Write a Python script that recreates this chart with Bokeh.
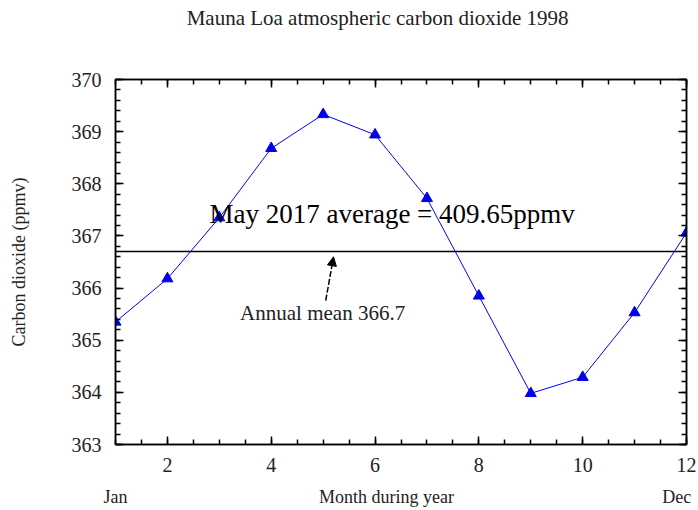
from bokeh.plotting import figure
from bokeh.models import FixedTicker, LinearAxis, Label, Arrow, NormalHead, Range1d
from bokeh.embed import file_html
from bokeh.resources import INLINE

months = [1, 2, 3, 4, 5, 6, 7, 8, 9, 10, 11, 12]
co2 = [365.35, 366.18, 367.35, 368.68, 369.33, 368.94, 367.72, 365.85, 363.98, 364.29, 365.53, 367.06]
annual_mean = 366.7
x_ticks = [2, 4, 6, 8, 10, 12]
y_ticks = [363, 364, 365, 366, 367, 368, 369, 370]
title_text = "Mauna Loa atmospheric carbon dioxide 1998"
note_text = "May 2017 average = 409.65ppmv"
mean_text = "Annual mean 366.7"
x_axis_title = "Month during year"
y_axis_title = "Carbon dioxide (ppmv)"
month_names = ["Jan", "Dec"]

FONT = "Liberation Serif"
FL, FT, FB = 115, 79, 444

p = figure(width=698, height=510, output_backend="svg", toolbar_location=None,
           x_range=Range1d(1, 12), y_range=Range1d(363, 370),
           min_border_left=FL, min_border_right=12, min_border_top=FT, min_border_bottom=510 - FB)
p.background_fill_color = "white"
p.border_fill_color = "white"
p.outline_line_color = "black"
p.outline_line_width = 1.5
p.xgrid.visible = False
p.ygrid.visible = False

xminor = [1 + 0.5 * i for i in range(23)]
yminor = [363 + 0.2 * i for i in range(36)]

def style(ax, labels=True):
    ax.major_tick_in = 8
    ax.major_tick_out = 0
    ax.minor_tick_in = 5
    ax.minor_tick_out = 0
    ax.axis_line_color = "black"
    ax.axis_line_width = 1.5
    ax.major_tick_line_width = 1.5
    ax.minor_tick_line_width = 1.5
    ax.major_label_text_font = FONT
    ax.major_label_text_font_size = "20px"
    ax.major_label_text_color = "#222222"
    ax.axis_label_text_font = FONT
    ax.axis_label_text_font_style = "normal"
    ax.axis_label_text_font_size = "18px"
    ax.axis_label_text_color = "#222222"
    if not labels:
        ax.major_label_text_alpha = 0
        ax.major_label_text_font_size = "1px"
        ax.major_label_standoff = 0

def text_axis(positions, texts, size, standoff):
    ax = LinearAxis(ticker=FixedTicker(ticks=positions, minor_ticks=[]),
                    major_label_overrides={k: v for k, v in zip(positions, texts)})
    ax.axis_line_color = None
    ax.major_tick_line_color = None
    ax.minor_tick_line_color = None
    ax.major_label_text_font = FONT
    ax.major_label_text_font_size = size
    ax.major_label_text_color = "#222222"
    ax.major_label_standoff = standoff
    return ax

p.xaxis.ticker = FixedTicker(ticks=x_ticks, minor_ticks=xminor)
p.yaxis.ticker = FixedTicker(ticks=y_ticks, minor_ticks=yminor)
style(p.xaxis[0])
style(p.yaxis[0])
p.xaxis.major_label_standoff = 13
p.yaxis.major_label_standoff = 14
p.yaxis.axis_label = y_axis_title
p.yaxis.axis_label_standoff = 40

top = LinearAxis(ticker=FixedTicker(ticks=x_ticks, minor_ticks=xminor))
style(top, labels=False)
p.add_layout(top, "above")
right = LinearAxis(ticker=FixedTicker(ticks=y_ticks, minor_ticks=yminor))
style(right, labels=False)
p.add_layout(right, "right")

# title row (a label-only axis above the plot)
p.add_layout(text_axis([6.05], [title_text], "21px", 44), "above")

# second row of x labels: Jan, axis title, Dec
p.add_layout(text_axis([1.0, 6.22, 11.81], [month_names[0], x_axis_title, month_names[1]], "18px", 6), "below")

# annual mean line
p.line([months[0], months[-1]], [annual_mean, annual_mean], line_color="black", line_width=1.5)

# data
p.line(months, co2, line_color="#0000ff", line_width=1)
p.scatter(months, co2, marker="triangle", size=11, fill_color="#0000ee", line_color="#0000ee")

# annotations
p.add_layout(Label(x=2.81, y=367.43, text=note_text, text_font=FONT, text_font_size="27px",
                   text_baseline="middle", text_align="left", text_color="black"))
p.add_layout(Label(x=4.99, y=365.53, text=mean_text, text_font=FONT, text_font_size="21px",
                   text_baseline="middle", text_align="center", text_color="#222222"))
p.add_layout(Arrow(x_start=5.05, y_start=365.76, x_end=5.2, y_end=366.6,
                   line_color="black", line_width=1.5, line_dash="6 2",
                   end=NormalHead(size=9, fill_color="black", line_color="black")))

open("out.html", "w").write(file_html(p, INLINE))
